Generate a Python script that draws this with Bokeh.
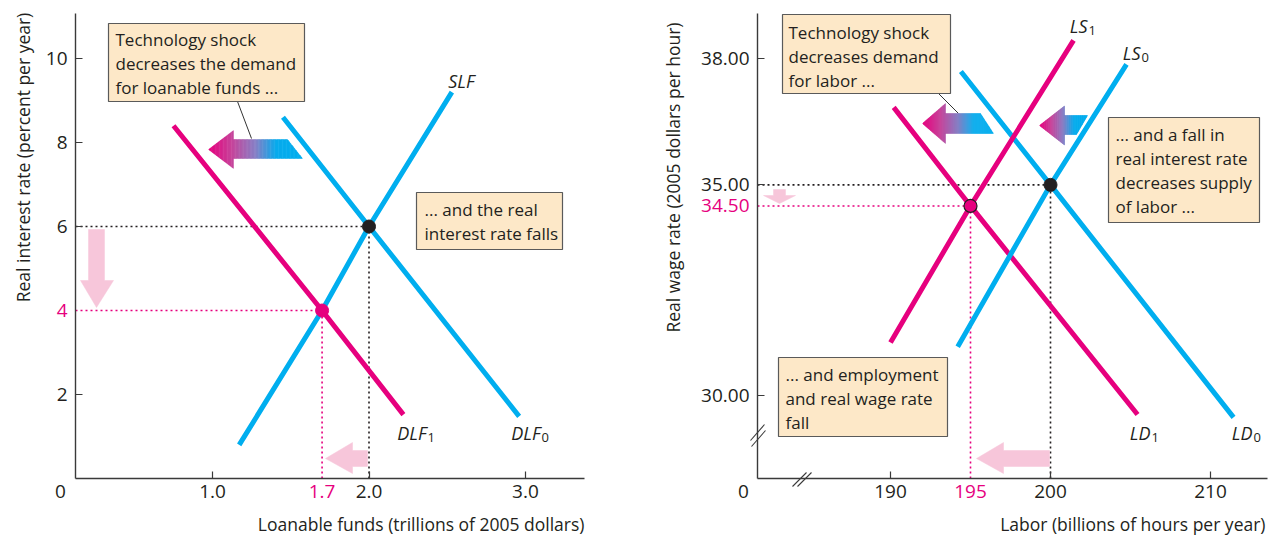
import math
from bokeh.plotting import figure
from bokeh.layouts import row
from bokeh.models import Range1d, FixedTicker, NumeralTickFormatter, Label
from bokeh.embed import file_html
from bokeh.resources import INLINE

MAG = "#E6007E"
BLUE = "#00AEEF"
PINK = "#F7C6DA"
INK = "#231F20"
BOXF = "#FDE8C8"
BOXL = "#5A5A5A"
FONT = "Open Sans"

# ---------------- data: loanable funds market ----------------
slf_x = [1.17, 1.7, 2.0, 2.53]
slf_y = [0.8, 4.0, 6.0, 9.2]
dlf0_x = [1.45, 2.0, 2.96]
dlf0_y = [8.6, 6.0, 1.48]
dlf1_x = [0.75, 1.7, 2.22]
dlf1_y = [8.4, 4.0, 1.52]
lf_eq_x = [2.0, 1.7]
lf_eq_y = [6.0, 4.0]
lf_xticks = [1.0, 2.0, 3.0]
lf_yticks = [2, 6, 8, 10]

# ---------------- data: labor market ----------------
ls0_x = [194.2, 200.0, 204.75]
ls0_y = [31.16, 35.0, 37.86]
ls1_x = [190.0, 195.0, 201.44]
ls1_y = [31.26, 34.5, 38.43]
ld0_x = [194.4, 200.0, 211.44]
ld0_y = [37.69, 35.0, 29.48]
ld1_x = [190.2, 195.0, 205.44]
ld1_y = [36.84, 34.5, 29.55]
lab_eq_x = [200.0, 195.0]
lab_eq_y = [35.0, 34.5]
lab_xticks = [190, 200, 210]
lab_yticks = [30, 35, 38]


# page-pixel -> data helpers (for annotation placement)
def LX(px): return 2.0 + (px - 368.5) / 156.4
def LY(py): return (478 - py) / 42.0
def RX(px): return 200.0 + (px - 1050) / 16.0
def RY(py): return 30.0 + (395 - py) / 42.125


def style(p, xticks, yticks, xfmt, yfmt, xloc, yloc, xb, yb):
    p.grid.visible = False
    p.outline_line_color = None
    p.background_fill_color = "white"
    p.border_fill_color = "white"
    for ax in (p.xaxis[0], p.yaxis[0]):
        ax.axis_line_color = "#3A3A3A"
        ax.axis_line_width = 1.4
        ax.major_tick_line_color = "#3A3A3A"
        ax.major_tick_line_width = 1.2
        ax.major_tick_in = 7
        ax.major_tick_out = 0
        ax.minor_tick_line_color = None
        ax.major_label_text_font = FONT
        ax.major_label_text_font_size = "19px"
        ax.major_label_text_color = INK
    p.xaxis[0].ticker = FixedTicker(ticks=xticks)
    p.yaxis[0].ticker = FixedTicker(ticks=yticks)
    p.xaxis[0].formatter = NumeralTickFormatter(format=xfmt)
    p.yaxis[0].formatter = NumeralTickFormatter(format=yfmt)
    p.xaxis[0].major_label_standoff = 6
    p.yaxis[0].major_label_standoff = 8
    p.xaxis[0].fixed_location = xloc
    p.yaxis[0].fixed_location = yloc
    p.xaxis[0].bounds = xb
    p.yaxis[0].bounds = yb


def lab(p, x, y, text, size="17px", color=INK, align="left", base="middle",
        angle=0, style_="normal"):
    p.add_layout(Label(x=x, y=y, text=text, text_font=FONT, text_font_size=size,
                       text_color=color, text_align=align, text_baseline=base,
                       angle=angle, text_font_style=style_))


def box(p, fx, fy, x0, y0, x1, y1, lines, tx, tys):
    p.quad(left=fx(x0), right=fx(x1), top=fy(y0), bottom=fy(y1),
           fill_color=BOXF, line_color=BOXL, line_width=1.2)
    for t, ty in zip(lines, tys):
        lab(p, fx(tx), fy(ty), t, size="17px")


def curve_label(p, fx, fy, xend, yc, main, sub):
    lab(p, fx(xend), fy(yc), main, size="18px", align="right", style_="italic")
    if sub:
        lab(p, fx(xend + 1), fy(yc + 5), sub, size="13px")


def clip_half(poly, x0, keep_greater):
    out = []
    n = len(poly)
    for i in range(n):
        P, Q = poly[i], poly[(i + 1) % n]
        pin = P[0] >= x0 if keep_greater else P[0] <= x0
        qin = Q[0] >= x0 if keep_greater else Q[0] <= x0
        if pin:
            out.append(P)
        if pin != qin:
            t = (x0 - P[0]) / (Q[0] - P[0])
            out.append((x0, P[1] + t * (Q[1] - P[1])))
    return out


STOPS = [(0.0, (230, 0, 126)), (0.25, (200, 70, 156)), (0.5, (135, 128, 198)),
         (0.72, (10, 172, 237)), (1.0, (0, 174, 239))]


def mix(t):
    for (t0, c0), (t1, c1) in zip(STOPS[:-1], STOPS[1:]):
        if t <= t1:
            f = (t - t0) / (t1 - t0)
            c = [round(a + (b - a) * f) for a, b in zip(c0, c1)]
            return "#%02x%02x%02x" % tuple(c)
    return "#%02x%02x%02x" % STOPS[-1][1]


def grad_arrow(p, fx, fy, tip, hb, hh, st, sb, rt, rb):
    tx, ty = tip
    head = [(tx, ty), (hb, ty - hh), (hb, ty + hh)]
    shaft = [(hb - 0.6, st), (rt, st), (rb, sb), (hb - 0.6, sb)]
    xmax = max(rt, rb)
    n = 70
    xs, ys, cols = [], [], []
    for i in range(n):
        xa = tx + (xmax - tx) * i / n
        xb = tx + (xmax - tx) * (i + 1) / n + 0.4
        col = mix((i + 0.5) / n)
        for piece in (head, shaft):
            c = clip_half(clip_half(piece, xa, True), xb, False)
            if len(c) >= 3:
                xs.append([fx(q[0]) for q in c])
                ys.append([fy(q[1]) for q in c])
                cols.append(col)
    p.patches(xs, ys, fill_color=cols, line_color=cols, line_width=0.3)


def poly(p, fx, fy, pts, color=PINK):
    p.patch([fx(a) for a, b in pts], [fy(b) for a, b in pts],
            fill_color=color, line_color=color, line_width=0.5)


def seg(p, fx, fy, a, b, color="#3A3A3A", w=1.1):
    p.line([fx(a[0]), fx(b[0])], [fy(a[1]), fy(b[1])], line_color=color, line_width=w)


DOT = "2 3"

# ======================= left panel =======================
p1 = figure(width=640, height=535, x_range=Range1d(LX(0), LX(640)),
            y_range=Range1d(LY(535), LY(0)), min_border=0, output_backend="svg",
            toolbar_location=None)
ax0_l = LX(75)     # y axis position
ay0_l = LY(478)    # x axis position
style(p1, lf_xticks, lf_yticks, "0.0", "0", ay0_l, ax0_l, (ax0_l, LX(584)), (ay0_l, LY(13)))

p1.line([ax0_l, lf_eq_x[0]], [lf_eq_y[0]] * 2, line_color=INK, line_width=1.6, line_dash=DOT)
p1.line([lf_eq_x[0]] * 2, [ay0_l, lf_eq_y[0]], line_color=INK, line_width=1.6, line_dash=DOT)
p1.line([ax0_l, lf_eq_x[1]], [lf_eq_y[1]] * 2, line_color=MAG, line_width=1.6, line_dash=DOT)
p1.line([lf_eq_x[1]] * 2, [ay0_l, lf_eq_y[1]], line_color=MAG, line_width=1.6, line_dash=DOT)

poly(p1, LX, LY, [(88, 229), (104, 229), (104, 280), (113, 280), (96, 307), (80, 280), (88, 280)])
poly(p1, LX, LY, [(325, 458), (352, 442), (352, 450), (367, 450), (367, 466), (352, 466), (352, 473)])

p1.line(dlf1_x, dlf1_y, line_color=MAG, line_width=5)
p1.line(dlf0_x, dlf0_y, line_color=BLUE, line_width=5)
p1.line(slf_x, slf_y, line_color=BLUE, line_width=5)

p1.line([LX(237), LX(251)], [LY(101), LY(138)], line_color="#333333", line_width=1)
grad_arrow(p1, LX, LY, (208, 149), 233, 19, 139, 158, 287, 302)

p1.scatter([lf_eq_x[0]], [lf_eq_y[0]], size=13, fill_color=INK, line_color=INK)
p1.scatter([lf_eq_x[1]], [lf_eq_y[1]], size=13, fill_color=MAG, line_color=MAG)

box(p1, LX, LY, 108, 23, 304, 101,
    ["Technology shock", "decreases the demand", "for loanable funds ..."], 115, [39, 63, 87])
box(p1, LX, LY, 416, 192, 562, 249, ["... and the real", "interest rate falls"], 424, [209, 233])

curve_label(p1, LX, LY, 474, 80, "SLF", "")
curve_label(p1, LX, LY, 426, 432, "DLF", "1")
curve_label(p1, LX, LY, 540, 432, "DLF", "0")

lab(p1, LX(60), LY(484), "0", size="19px", align="center", base="top")
lab(p1, lf_eq_x[1], LY(484), "1.7", size="19px", color=MAG, align="center", base="top")
lab(p1, LX(67), lf_eq_y[1], "4", size="19px", color=MAG, align="right")
lab(p1, LX(22), LY(157), "Real interest rate (percent per year)", size="17.5px",
    align="center", angle=math.pi / 2)
lab(p1, LX(584), LY(523), "Loanable funds (trillions of 2005 dollars)", size="17.5px",
    align="right")

# ======================= right panel =======================
p2 = figure(width=628, height=535, x_range=Range1d(RX(640), RX(1268)),
            y_range=Range1d(RY(535), RY(0)), min_border=0, output_backend="svg",
            toolbar_location=None)
ax0_r = RX(757)
ay0_r = RY(478)
style(p2, lab_xticks, lab_yticks, "0", "0.00", ay0_r, ax0_r, (ax0_r, RX(1267)), (ay0_r, RY(13)))

p2.line([ax0_r, lab_eq_x[0]], [lab_eq_y[0]] * 2, line_color=INK, line_width=1.6, line_dash=DOT)
p2.line([lab_eq_x[0]] * 2, [ay0_r, lab_eq_y[0]], line_color=INK, line_width=1.6, line_dash=DOT)
p2.line([ax0_r, lab_eq_x[1]], [lab_eq_y[1]] * 2, line_color=MAG, line_width=1.6, line_dash=DOT)
p2.line([lab_eq_x[1]] * 2, [ay0_r, lab_eq_y[1]], line_color=MAG, line_width=1.6, line_dash=DOT)

poly(p2, RX, RY, [(773, 189), (785, 189), (785, 195), (795, 195), (779, 203), (763, 195), (773, 195)])
poly(p2, RX, RY, [(976, 458), (1003, 442), (1003, 450), (1049, 450), (1049, 466), (1003, 466), (1003, 473)])

p2.line(ld1_x, ld1_y, line_color=MAG, line_width=5)
p2.line(ld0_x, ld0_y, line_color=BLUE, line_width=5)
p2.line(ls1_x, ls1_y, line_color=MAG, line_width=5)
p2.line(ls0_x, ls0_y, line_color=BLUE, line_width=5)

p2.line([RX(937), RX(958)], [RY(92), RY(113)], line_color="#333333", line_width=1)
grad_arrow(p2, RX, RY, (922, 123), 945, 20, 113, 133, 980, 993)
grad_arrow(p2, RX, RY, (1039, 125), 1064, 19.5, 115, 134, 1087, 1076)

p2.scatter([lab_eq_x[0]], [lab_eq_y[0]], size=13, fill_color=INK, line_color=INK)
p2.scatter([lab_eq_x[1]], [lab_eq_y[1]], size=13, fill_color=MAG, line_color=INK, line_width=1.2)

box(p2, RX, RY, 782, 14, 950, 93, ["Technology shock", "decreases demand", "for labor ..."],
    788, [32, 56, 80])
box(p2, RX, RY, 1108, 117, 1259, 222,
    ["... and a fall in", "real interest rate", "decreases supply", "of labor ..."],
    1115, [134, 158, 182, 206])
box(p2, RX, RY, 778, 357, 947, 436, ["... and employment", "and real wage rate", "fall"],
    785, [374, 398, 422])

curve_label(p2, RX, RY, 1087, 25, "LS", "1")
curve_label(p2, RX, RY, 1140, 52, "LS", "0")
curve_label(p2, RX, RY, 1150, 432, "LD", "1")
curve_label(p2, RX, RY, 1252, 432, "LD", "0")

seg(p2, RX, RY, (750, 440), (764, 424))
seg(p2, RX, RY, (751, 446), (765, 430))
seg(p2, RX, RY, (792, 486), (806, 472))
seg(p2, RX, RY, (797, 486), (811, 472))

lab(p2, RX(743), RY(484), "0", size="19px", align="center", base="top")
lab(p2, lab_eq_x[1], RY(484), "195", size="19px", color=MAG, align="center", base="top")
lab(p2, RX(749), lab_eq_y[1], "34.50", size="19px", color=MAG, align="right")
lab(p2, RX(672), RY(177), "Real wage rate (2005 dollars per hour)", size="17.5px",
    align="center", angle=math.pi / 2)
lab(p2, RX(1265), RY(523), "Labor (billions of hours per year)", size="17.5px", align="right")

layout = row(p1, p2)
open("out.html", "w").write(file_html(layout, INLINE))
